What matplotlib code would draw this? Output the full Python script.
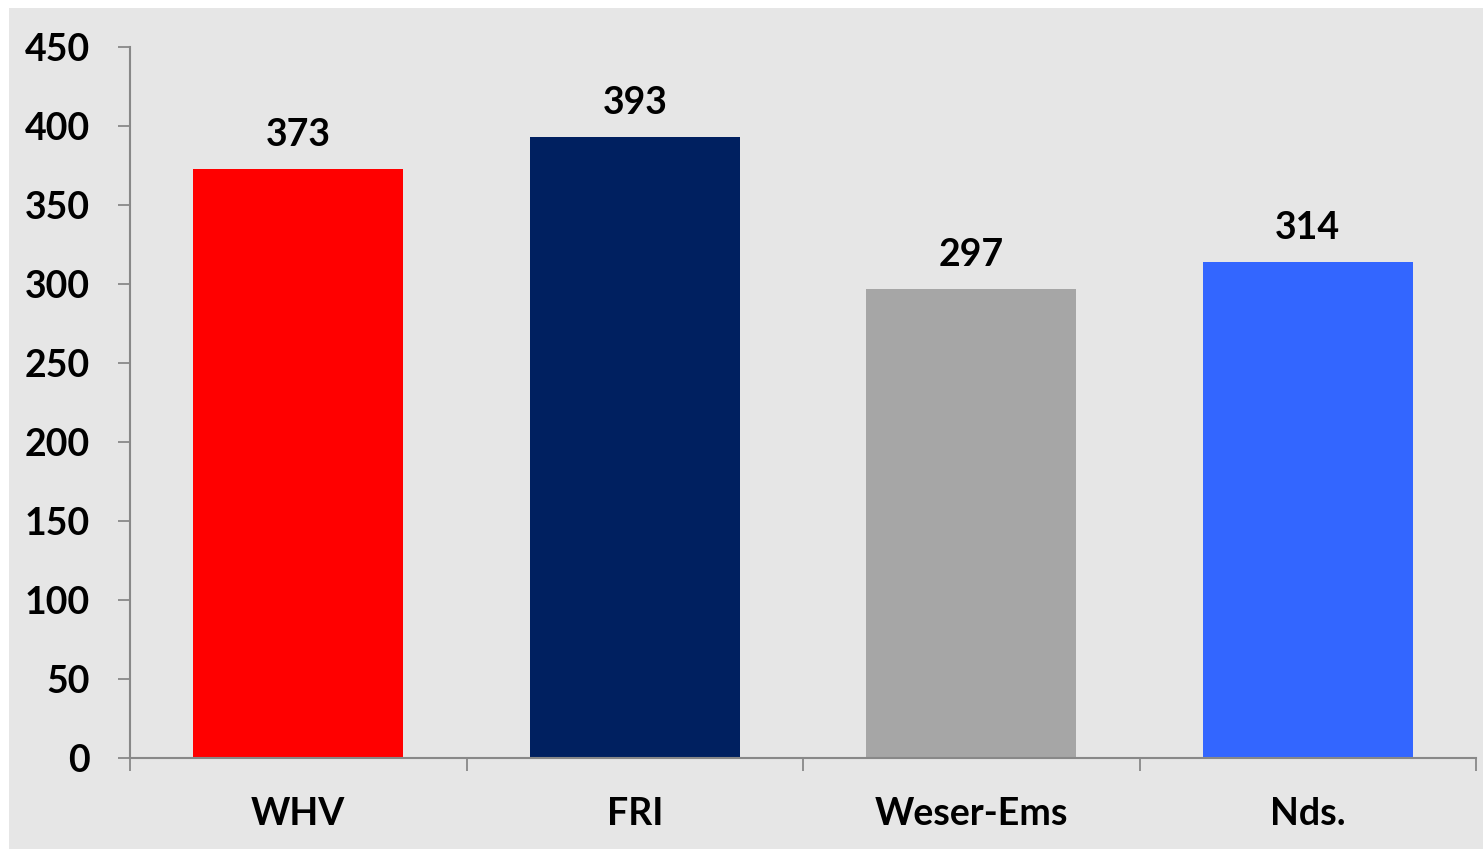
import matplotlib.pyplot as plt
from matplotlib.patches import Rectangle

categories = ["WHV", "FRI", "Weser-Ems", "Nds."]
values = [373, 393, 297, 314]
colors = ["#ff0000", "#002060", "#a6a6a6", "#3366ff"]
yticks = [0, 50, 100, 150, 200, 250, 300, 350, 400, 450]


def main():
    plt.rcParams["font.family"] = ["Lato", "DejaVu Sans"]
    fig = plt.figure(figsize=(14.83, 8.49), dpi=100)
    fig.patch.set_facecolor("white")
    fig.patches.append(
        Rectangle((9 / 1483, 0), 1, 1 - 8 / 849, transform=fig.transFigure,
                  facecolor="#e6e6e6", edgecolor="none", zorder=-10)
    )
    ax = fig.add_axes([130 / 1483, 91 / 849, 1346 / 1483, 711 / 849])
    ax.set_facecolor("none")

    x = range(len(categories))
    bars = ax.bar(x, values, width=0.624, color=colors, zorder=2)
    for b, v in zip(bars, values):
        ax.annotate(str(v), (b.get_x() + b.get_width() / 2, v),
                    xytext=(0, 12), textcoords="offset points",
                    ha="center", va="bottom", fontsize=27, fontweight="bold")

    ax.set_xlim(-0.5, 3.5)
    ax.set_ylim(0, 450)
    ax.set_yticks(yticks)
    ax.set_yticklabels([str(t) for t in yticks], fontsize=27, fontweight="bold")
    ax.set_xticks(list(x))
    ax.set_xticklabels(categories, fontsize=27, fontweight="bold")
    ax.set_xticks([i - 0.5 for i in range(len(categories) + 1)], minor=True)
    ax.tick_params(axis="x", which="major", length=0, pad=28)
    ax.tick_params(axis="x", which="minor", length=9, width=1.3, color="#888888")
    ax.tick_params(axis="y", length=9, width=1.3, color="#888888", pad=20)

    for s in ["top", "right"]:
        ax.spines[s].set_visible(False)
    for s in ["left", "bottom"]:
        ax.spines[s].set_color("#888888")
        ax.spines[s].set_linewidth(1.5)

    fig.savefig("out.png", dpi=100)


if __name__ == "__main__":
    main()
